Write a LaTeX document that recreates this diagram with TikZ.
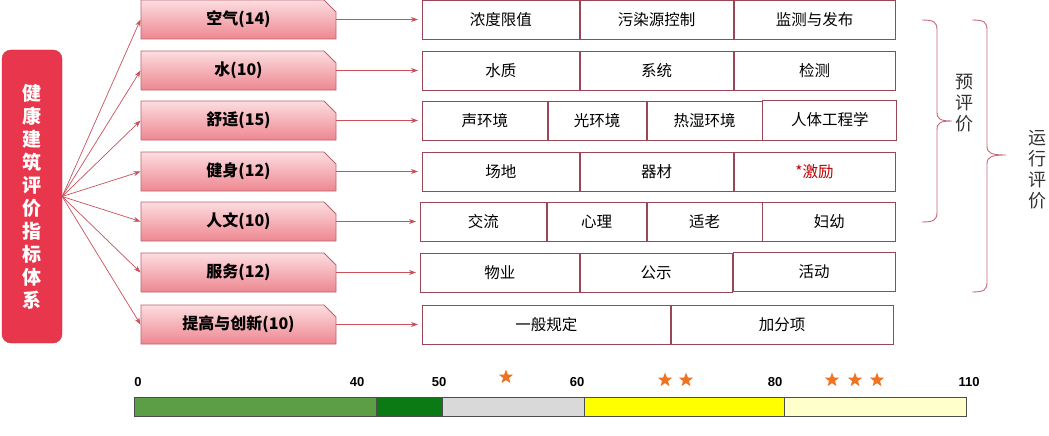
\documentclass[tikz,border=0pt]{standalone}
\usepackage{fontspec}
\setmainfont{Noto Sans CJK SC}
\newfontfamily\numfont{Liberation Sans}
\usetikzlibrary{positioning,arrows.meta,shapes.misc,shapes.geometric}
\definecolor{mainred}{HTML}{E8374C}
\definecolor{catline}{HTML}{B8646E}
\definecolor{cattop}{HTML}{FCDDE0}
\definecolor{catbot}{HTML}{EE8790}
\definecolor{boxline}{HTML}{9A4656}
\definecolor{arrred}{HTML}{C9505A}
\definecolor{bracered}{HTML}{C46A78}
\definecolor{starorange}{HTML}{EE7422}
\definecolor{barA}{HTML}{5C9E46}
\definecolor{barB}{HTML}{0B7A14}
\definecolor{barC}{HTML}{D9D9D9}
\definecolor{barD}{HTML}{FFFF00}
\definecolor{barE}{HTML}{FFFFCC}
\tikzset{
  mainbox/.style={rectangle, rounded corners=9pt, fill=mainred, draw=mainred!85!black, minimum width=60pt, minimum height=293pt, text=white, align=center, font=\bfseries\fontsize{19}{23}\selectfont},
  catbox/.style={chamfered rectangle, chamfered rectangle corners=north east, chamfered rectangle xsep=6pt, chamfered rectangle ysep=6pt, draw=catline, line width=0.9pt, top color=cattop, bottom color=catbot, minimum width=195pt, minimum height=39pt, inner sep=0pt, font=\bfseries\fontsize{16}{18}\selectfont},
  itembox/.style={rectangle, draw=boxline, line width=0.8pt, fill=white, minimum height=39pt, inner sep=0pt, font=\fontsize{15.5}{18}\selectfont},
  arr/.style={draw=arrred, line width=0.7pt, -{Stealth[length=7pt,width=5pt]}},
  bracemark/.style={draw=bracered, line width=0.9pt},
  sidelabel/.style={align=center, text=black!80, font=\fontsize{18}{21}\selectfont},
  scalelabel/.style={font=\numfont\bfseries\fontsize{13}{15}\selectfont},
  starmark/.style={star, star points=5, star point ratio=2.4, fill=starorange, minimum size=15pt, inner sep=0pt},
  barseg/.style={draw=black!70, line width=0.6pt}
}
\begin{document}
\begin{tikzpicture}[x=1pt, y=-1pt]
  \useasboundingbox (0,0) rectangle (1049,436);
  % Nodes
  \node[mainbox] (index) at (32,196.5) {健\\康\\建\\筑\\评\\价\\指\\标\\体\\系};

  \node[catbox] (air) at (238.5,19.5) {空气(14)};
  \node[catbox] (water) at (238.5,70.5) {水(10)};
  \node[catbox] (comfort) at (238.5,120.5) {舒适(15)};
  \node[catbox] (fitness) at (238.5,171.5) {健身(12)};
  \node[catbox] (humanity) at (238.5,221.5) {人文(10)};
  \node[catbox] (service) at (238.5,272.5) {服务(12)};
  \node[catbox] (innov) at (238.5,324.5) {提高与创新(10)};

  \node[itembox, minimum width=157pt, anchor=west] (air1) at (422,19.5) {浓度限值};
  \node[itembox, minimum width=153pt, right=0pt of air1] (air2) {污染源控制};
  \node[itembox, minimum width=161pt, right=0pt of air2] (air3) {监测与发布};

  \node[itembox, minimum width=157pt, anchor=west] (water1) at (422,70.5) {水质};
  \node[itembox, minimum width=153pt, right=0pt of water1] (water2) {系统};
  \node[itembox, minimum width=161pt, right=0pt of water2] (water3) {检测};

  \node[itembox, minimum width=125pt, anchor=west] (comfort1) at (422,120.5) {声环境};
  \node[itembox, minimum width=98pt, right=0pt of comfort1] (comfort2) {光环境};
  \node[itembox, minimum width=115pt, right=0pt of comfort2] (comfort3) {热湿环境};
  \node[itembox, minimum width=134pt, minimum height=40pt, right=0pt of comfort3, yshift=0.5pt] (comfort4) {人体工程学};

  \node[itembox, minimum width=157pt, anchor=west] (fitness1) at (422,171.5) {场地};
  \node[itembox, minimum width=153pt, right=0pt of fitness1] (fitness2) {器材};
  \node[itembox, minimum width=161pt, right=0pt of fitness2, text=red!75!black] (fitness3) {*激励};

  \node[itembox, minimum width=126pt, anchor=west] (humanity1) at (420,221.5) {交流};
  \node[itembox, minimum width=99pt, right=0pt of humanity1] (humanity2) {心理};
  \node[itembox, minimum width=115pt, right=0pt of humanity2] (humanity3) {适老};
  \node[itembox, minimum width=133pt, right=0pt of humanity3] (humanity4) {妇幼};

  \node[itembox, minimum width=159pt, anchor=west] (service1) at (420,272.5) {物业};
  \node[itembox, minimum width=152pt, right=0pt of service1] (service2) {公示};
  \node[itembox, minimum width=162pt, right=0pt of service2, yshift=0.5pt] (service3) {活动};

  \node[itembox, minimum width=248pt, anchor=west] (innov1) at (422,324.5) {一般规定};
  \node[itembox, minimum width=222pt, right=0pt of innov1] (innov2) {加分项};

  % Braces
  \draw[bracemark] (922,20) .. controls (934,20) and (937,22) .. (937,30) -- (937,112)
    .. controls (937,119) and (940,121) .. (952,121) .. controls (940,121) and (937,123) .. (937,130)
    -- (937,212) .. controls (937,220) and (934,222) .. (922,222);
  \draw[bracemark] (972,20) .. controls (984,20) and (987,22) .. (987,30) -- (987,146)
    .. controls (987,153) and (991,155) .. (1006,155) .. controls (991,155) and (987,157) .. (987,164)
    -- (987,282) .. controls (987,290) and (984,292) .. (972,292);
  \node[sidelabel] (pre) at (964,103) {预\\评\\价};
  \node[sidelabel] (run) at (1037,170) {运\\行\\评\\价};

  % Connectors
  \foreach \c in {air, water, comfort, fitness, humanity, service, innov} {
    \draw[arr] (index.east) -- (\c.west);
    \draw[arr, shorten >=4pt] (\c.east) -- (\c1.west);
  }

  % Score bar
  \foreach \a/\b/\col in {134/376/barA, 376/442/barB, 442/584/barC, 584/784/barD, 784/966/barE}
    \draw[barseg, fill=\col] (\a,397) rectangle (\b,416);
  \foreach \x/\t in {138/0, 357/40, 439/50, 577/60, 775/80, 969/110}
    \node[scalelabel] (score\t) at (\x,382) {\t};
  \foreach \x/\y in {506/377, 665/380, 686/380, 832/380, 855/380, 877/380}
    \node[starmark] (star\x) at (\x,\y) {};
\end{tikzpicture}
\end{document}
